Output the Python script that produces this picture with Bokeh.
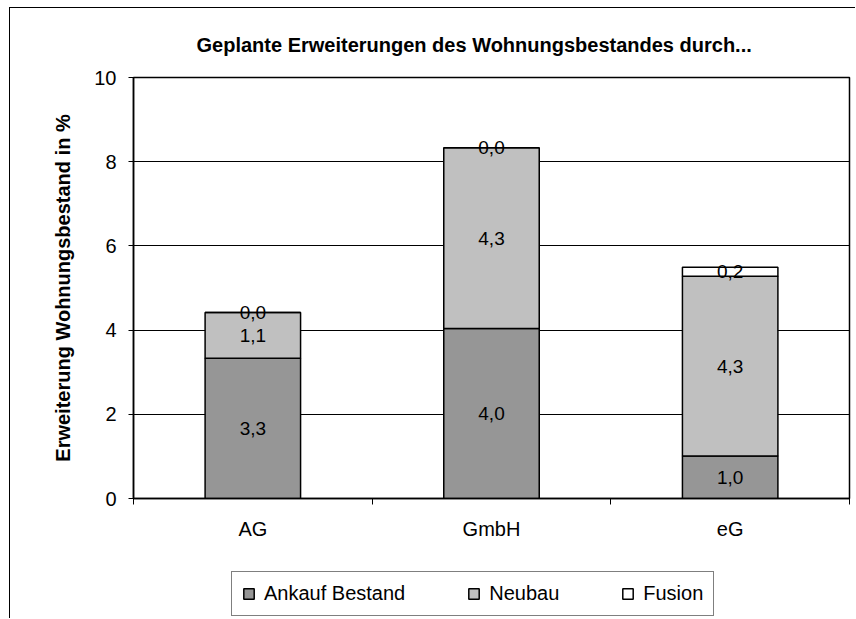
from bokeh.plotting import figure
from bokeh.layouts import column
from bokeh.models import (Range1d, FixedTicker, Legend, LegendItem,
                          ColumnDataSource, LabelSet, Title)
from bokeh.core.properties import value
from bokeh.embed import file_html
from bokeh.resources import INLINE

# ---- data ----
categories = ["AG", "GmbH", "eG"]
series = ["Ankauf Bestand", "Neubau", "Fusion"]
ankauf = [3.33, 4.04, 1.01]
neubau = [1.09, 4.29, 4.27]
fusion = [0.0, 0.0, 0.21]
y_ticks = [0, 2, 4, 6, 8, 10]
title_text = "Geplante Erweiterungen des Wohnungsbestandes durch..."
y_label = "Erweiterung Wohnungsbestand in %"
colors = ["#969696", "#C0C0C0", "#FFFFFF"]

FONT = "Liberation Sans"

x_pos = [i + 0.5 for i in range(len(categories))]
keys = ["ankauf", "neubau", "fusion"]
source = ColumnDataSource(dict(x=x_pos, ankauf=ankauf, neubau=neubau, fusion=fusion))

p = figure(width=846, height=552, x_range=Range1d(0, len(categories)),
           y_range=Range1d(0, 10), output_backend="svg", toolbar_location=None,
           min_border_left=123, min_border_top=69, min_border_right=7,
           min_border_bottom=62, title=None)
p.styles = {"border-left": "1px solid black", "border-top": "1px solid black"}
p.background_fill_color = "white"
p.border_fill_color = "white"
p.outline_line_color = "black"
p.outline_line_width = 1.5

renderers = p.vbar_stack(keys, x="x", width=0.4, source=source,
                         fill_color=colors, line_color="black", line_width=1.5)

# data labels
lx, ly, lt = [], [], []
for i in range(len(categories)):
    bottom = 0.0
    for vals in (ankauf, neubau, fusion):
        v = vals[i]
        lx.append(x_pos[i])
        ly.append(bottom + v / 2)
        lt.append(f"{v:.1f}".replace(".", ","))
        bottom += v
lab_src = ColumnDataSource(dict(x=lx, y=ly, t=lt))
p.add_layout(LabelSet(x="x", y="y", text="t", source=lab_src,
                      text_align="center", text_baseline="middle",
                      text_font=value(FONT), text_font_size="19px", text_color="black"))

# grid
p.xgrid.visible = False
p.ygrid.ticker = FixedTicker(ticks=y_ticks)
p.ygrid.grid_line_color = "black"
p.ygrid.grid_line_width = 1

# y axis
yax = p.yaxis[0]
yax.ticker = FixedTicker(ticks=y_ticks)
yax.axis_line_color = "black"
yax.axis_line_width = 1.5
yax.major_tick_out = 5
yax.major_tick_in = 0
yax.major_tick_line_color = "black"
yax.minor_tick_line_color = None
yax.major_label_standoff = 12
yax.major_label_text_font = FONT
yax.major_label_text_font_size = "20px"
yax.major_label_text_color = "black"
yax.axis_label = y_label
yax.axis_label_text_font = FONT
yax.axis_label_text_font_size = "20px"
yax.axis_label_text_font_style = "bold"
yax.axis_label_text_color = "black"
yax.axis_label_standoff = 17

# x axis
xax = p.xaxis[0]
xax.ticker = FixedTicker(ticks=x_pos, minor_ticks=list(range(len(categories) + 1)))
xax.major_label_overrides = {x: c for x, c in zip(x_pos, categories)}
xax.axis_line_color = "black"
xax.axis_line_width = 1.5
xax.major_tick_line_color = None
xax.major_tick_out = 0
xax.major_tick_in = 0
xax.minor_tick_line_color = "black"
xax.minor_tick_out = 6
xax.minor_tick_in = 0
xax.major_label_standoff = 13
xax.major_label_text_font = FONT
xax.major_label_text_font_size = "20px"
xax.major_label_text_color = "black"

# title
p.add_layout(Title(text=title_text, align="left", offset=63, standoff=44,
                   vertical_align="bottom",
                   text_font=FONT, text_font_size="20px", text_font_style="bold",
                   text_color="black"), "above")

# legend strip (separate figure holding only the legend)
p2 = figure(width=846, height=59, x_range=Range1d(0, len(categories)),
            y_range=Range1d(0, 10), output_backend="svg", toolbar_location=None,
            x_axis_type=None, y_axis_type=None, min_border=0,
            min_border_left=0, min_border_right=0, min_border_top=0,
            min_border_bottom=0)
p2.styles = {"border-left": "1px solid black"}
p2.outline_line_color = None
p2.grid.visible = False
p2.background_fill_color = "white"
p2.border_fill_color = "white"
leg_renderers = p2.vbar_stack(keys, x="x", width=0.4, source=source,
                              fill_color=colors, line_color="black", line_width=1.5)
for r in leg_renderers:
    r.visible = False
legend = Legend(items=[LegendItem(label=s, renderers=[r]) for s, r in zip(series, leg_renderers)],
                orientation="horizontal", location=(98, 2),
                glyph_width=13, glyph_height=13, label_standoff=9, spacing=62,
                padding=10, label_height=22, margin=0,
                border_line_color="black", border_line_width=1,
                background_fill_color="white", background_fill_alpha=1,
                inactive_fill_alpha=0, click_policy="none",
                label_text_font=FONT, label_text_font_size="20px",
                label_text_color="black")
p2.add_layout(legend, "center")

layout = column(p, p2, spacing=0, margin=(7, 0, 0, 9))

open("out.html", "w").write(file_html(layout, INLINE))
